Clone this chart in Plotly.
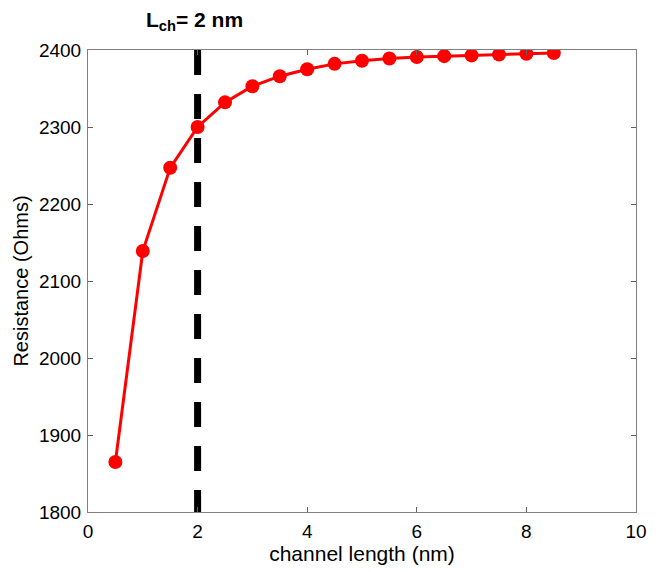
import plotly.graph_objects as go

channel_length = [0.5, 1.0, 1.5, 2.0, 2.5, 3.0, 3.5, 4.0, 4.5, 5.0, 5.5, 6.0, 6.5, 7.0, 7.5, 8.0, 8.5]
resistance = [1865, 2139, 2247, 2300, 2332, 2353, 2366, 2375, 2382, 2386, 2389, 2391, 2392, 2393, 2394, 2395, 2396]
lch = 2
x_ticks = [0, 2, 4, 6, 8, 10]
y_ticks = [1800, 1900, 2000, 2100, 2200, 2300, 2400]

font = "Liberation Sans, Arial, sans-serif"

fig = go.Figure()
fig.add_trace(go.Scatter(
    x=[lch, lch], y=[2400, 1800], mode="lines",
    line=dict(color="black", width=7, dash="25px,19px"),
    showlegend=False, hoverinfo="skip"))
fig.add_trace(go.Scatter(
    x=channel_length, y=resistance, mode="lines+markers",
    line=dict(color="#ff0000", width=3),
    marker=dict(color="#ff0000", size=14),
    showlegend=False))

axis_common = dict(
    showline=True, linecolor="#808080", linewidth=1, mirror="ticks",
    ticks="inside", ticklen=5, tickcolor="#606060", showgrid=False, zeroline=False,
    tickfont=dict(family=font, size=19, color="black"),
    ticklabelstandoff=2,
)
fig.update_xaxes(range=[0, 10], tickvals=x_ticks,
                 title=dict(text="channel length (nm)", font=dict(family=font, size=21, color="black"), standoff=3),
                 **axis_common)
fig.update_yaxes(range=[1800, 2400], tickvals=y_ticks,
                 title=dict(text="Resistance (Ohms)", font=dict(family=font, size=20, color="black"), standoff=4),
                 **axis_common)

fig.add_annotation(text="<b>L<sub>ch</sub>= 2 nm</b>", xref="x", yref="paper",
                   x=1.94, y=1.0, yshift=29, yanchor="middle", showarrow=False,
                   font=dict(family=font, size=21, color="black"))

fig.update_layout(
    width=654, height=564,
    margin=dict(l=80, r=26, t=42, b=60),
    plot_bgcolor="white", paper_bgcolor="white",
)
fig.write_html("out.html")
